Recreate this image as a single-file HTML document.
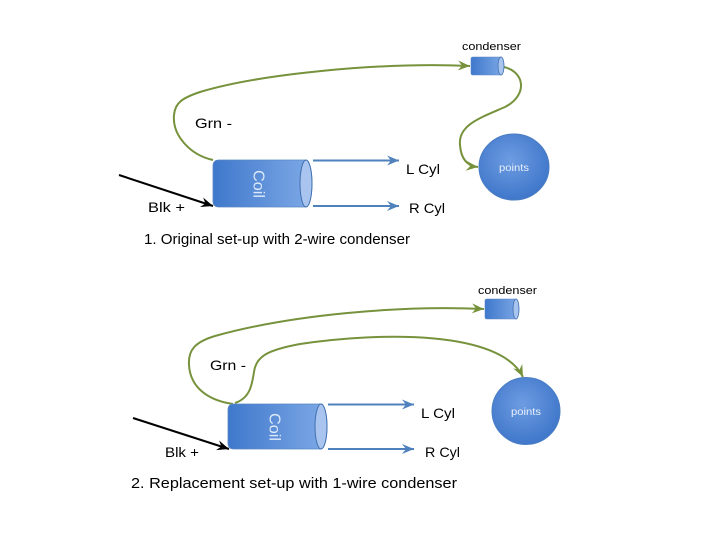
<!DOCTYPE html>
<html><head><meta charset="utf-8"><style>
html,body{margin:0;padding:0;background:#fff;}
svg{display:block;}
text{font-family:"Liberation Sans",sans-serif;}
</style></head><body>
<svg width="720" height="540" viewBox="0 0 720 540" xmlns="http://www.w3.org/2000/svg">
<defs>
<linearGradient id="cg" x1="0" y1="0" x2="1" y2="0">
<stop offset="0" stop-color="#3f78cc"/><stop offset="1" stop-color="#7ea9e6"/>
</linearGradient>
<radialGradient id="pg" cx="0.45" cy="0.4" r="0.65">
<stop offset="0" stop-color="#6d9ce2"/><stop offset="1" stop-color="#3c74c8"/>
</radialGradient>
<marker id="ga" markerUnits="userSpaceOnUse" markerWidth="14" markerHeight="12" refX="12" refY="6" orient="auto" viewBox="0 0 14 12">
<path d="M0,1 L12,6 L0,11 L4,6 Z" fill="#76923c"/>
</marker>
<marker id="ba" markerUnits="userSpaceOnUse" markerWidth="14" markerHeight="12" refX="12" refY="6" orient="auto" viewBox="0 0 14 12">
<path d="M0,1 L12,6 L0,11 L4,6 Z" fill="#4f81bd"/>
</marker>
<marker id="ka" markerUnits="userSpaceOnUse" markerWidth="14" markerHeight="12" refX="12" refY="6" orient="auto" viewBox="0 0 14 12">
<path d="M0,1 L12,6 L0,11 L4,6 Z" fill="#000"/>
</marker>
</defs>

<!-- ===== Section 1 ===== -->
<path d="M213,160 C190,155 172,135 174,115 C175,103 182,98 200,92 C260,74 380,62 470,66" fill="none" stroke="#76923c" stroke-width="2" marker-end="url(#ga)"/>
<path d="M504,67 C525,72 528,95 505,107 C480,118 458,125 460,145 C461,160 468,166 478,167" fill="none" stroke="#76923c" stroke-width="2" marker-end="url(#ga)"/>

<path d="M219,160 H306 A6,23.5 0 0 1 306,207 H219 Q213,207 213,201 V166 Q213,160 219,160 Z" fill="url(#cg)" stroke="#5a86c4" stroke-width="0.8"/>
<ellipse cx="306" cy="183.5" rx="6" ry="23.5" fill="#a9c5ef" stroke="#3f6fb0" stroke-width="1"/>
<text transform="translate(258,184) rotate(90)" text-anchor="middle" dominant-baseline="central" font-size="16" fill="#dde9fa" textLength="28" lengthAdjust="spacingAndGlyphs">Coil</text>

<line x1="313" y1="160.5" x2="399" y2="160.5" stroke="#4f81bd" stroke-width="2" marker-end="url(#ba)"/>
<line x1="313" y1="206" x2="399" y2="206" stroke="#4f81bd" stroke-width="2" marker-end="url(#ba)"/>

<line x1="119" y1="175" x2="213" y2="206" stroke="#000" stroke-width="2" marker-end="url(#ka)"/>

<path d="M473,57 H501 A3,9 0 0 1 501,75 H473 Q471,75 471,73 V59 Q471,57 473,57 Z" fill="url(#cg)" stroke="#5a86c4" stroke-width="0.6"/>
<ellipse cx="501" cy="66" rx="3" ry="9" fill="#a9c5ef" stroke="#3f6fb0" stroke-width="0.8"/>

<ellipse cx="514" cy="167" rx="35" ry="33" fill="url(#pg)" stroke="#4a7dc4" stroke-width="1"/>
<text x="514" y="171" text-anchor="middle" font-size="10" fill="#e8f0fb" textLength="30" lengthAdjust="spacingAndGlyphs">points</text>

<text x="462" y="50" font-size="11" fill="#000" textLength="59" lengthAdjust="spacingAndGlyphs">condenser</text>
<text x="195" y="128" font-size="14" fill="#000" textLength="37" lengthAdjust="spacingAndGlyphs">Grn -</text>
<text x="148" y="212" font-size="14" fill="#000" textLength="37" lengthAdjust="spacingAndGlyphs">Blk +</text>
<text x="406" y="174" font-size="14" fill="#000" textLength="34" lengthAdjust="spacingAndGlyphs">L Cyl</text>
<text x="409" y="213" font-size="14" fill="#000" textLength="36" lengthAdjust="spacingAndGlyphs">R Cyl</text>
<text x="144" y="244" font-size="15" fill="#000" textLength="266" lengthAdjust="spacingAndGlyphs">1. Original set-up with 2-wire condenser</text>

<!-- ===== Section 2 ===== -->
<path d="M233,404 C205,400 190,385 189,365 C188,350 195,342 215,336 C290,315 400,305 484,309" fill="none" stroke="#76923c" stroke-width="2" marker-end="url(#ga)"/>
<path d="M235,403 C250,398 252,385 254,372 C256,356 268,350 300,344 C380,332 500,330 523,377" fill="none" stroke="#76923c" stroke-width="2" marker-end="url(#ga)"/>

<path d="M234,404 H321 A6,22.5 0 0 1 321,449 H234 Q228,449 228,443 V410 Q228,404 234,404 Z" fill="url(#cg)" stroke="#5a86c4" stroke-width="0.8"/>
<ellipse cx="321" cy="426.5" rx="6" ry="22.5" fill="#a9c5ef" stroke="#3f6fb0" stroke-width="1"/>
<text transform="translate(274,427) rotate(90)" text-anchor="middle" dominant-baseline="central" font-size="16" fill="#dde9fa" textLength="28" lengthAdjust="spacingAndGlyphs">Coil</text>

<line x1="328" y1="404.5" x2="414" y2="404.5" stroke="#4f81bd" stroke-width="2" marker-end="url(#ba)"/>
<line x1="328" y1="449" x2="414" y2="449" stroke="#4f81bd" stroke-width="2" marker-end="url(#ba)"/>

<line x1="133" y1="418" x2="229" y2="449" stroke="#000" stroke-width="2" marker-end="url(#ka)"/>

<path d="M487,299 H516 A3,10 0 0 1 516,319 H487 Q485,319 485,317 V301 Q485,299 487,299 Z" fill="url(#cg)" stroke="#5a86c4" stroke-width="0.6"/>
<ellipse cx="516" cy="309" rx="3" ry="10" fill="#a9c5ef" stroke="#3f6fb0" stroke-width="0.8"/>

<ellipse cx="526" cy="411" rx="34" ry="33.5" fill="url(#pg)" stroke="#4a7dc4" stroke-width="1"/>
<text x="526" y="415" text-anchor="middle" font-size="10" fill="#e8f0fb" textLength="30" lengthAdjust="spacingAndGlyphs">points</text>

<text x="478" y="294" font-size="11" fill="#000" textLength="59" lengthAdjust="spacingAndGlyphs">condenser</text>
<text x="210" y="370" font-size="14" fill="#000" textLength="36" lengthAdjust="spacingAndGlyphs">Grn -</text>
<text x="165" y="457" font-size="14" fill="#000" textLength="34" lengthAdjust="spacingAndGlyphs">Blk +</text>
<text x="421" y="418" font-size="14" fill="#000" textLength="34" lengthAdjust="spacingAndGlyphs">L Cyl</text>
<text x="425" y="457" font-size="14" fill="#000" textLength="35" lengthAdjust="spacingAndGlyphs">R Cyl</text>
<text x="131" y="488" font-size="15" fill="#000" textLength="326" lengthAdjust="spacingAndGlyphs">2. Replacement set-up with 1-wire condenser</text>
</svg>
</body></html>
